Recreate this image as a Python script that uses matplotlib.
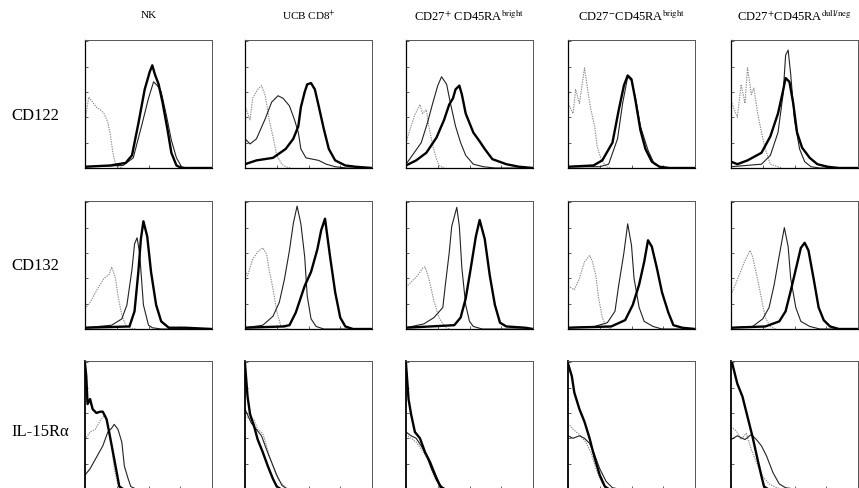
import matplotlib
matplotlib.use("Agg")
import matplotlib.pyplot as plt
import numpy as np

plt.rcParams['font.family'] = ['Liberation Serif', 'DejaVu Serif']
plt.rcParams['mathtext.fontset'] = 'stix'

COL_TITLES = ["NK", "UCB CD8$^{+}$", "CD27$^{+}$ CD45RA$^{\\rm bright}$",
              "CD27$^{-}$CD45RA$^{\\rm bright}$", "CD27$^{+}$CD45RA$^{\\rm dull/neg}$"]
ROW_TITLES = ["CD122", "CD132", "IL-15R\u03b1"]

# curves: (channel %, relative count %)
# row 1 : CD122
CD122_ISO = [
    [(0, 37), (3, 56), (6, 52), (9, 48), (12, 46), (15, 43), (18, 36), (20, 26), (22, 12), (24, 3), (26, 1), (30, 0)],
    [(0, 49), (4, 38), (6, 55), (10, 62), (13, 65), (16, 57), (19, 38), (22, 25), (25, 10), (29, 3), (32, 1), (36, 0)],
    [(0, 20), (4, 33), (7, 42), (11, 50), (13, 43), (16, 46), (18, 33), (21, 18), (24, 7), (26, 2), (30, 0)],
    [(0, 51), (4, 43), (6, 62), (9, 51), (13, 79), (16, 58), (18, 46), (21, 33), (23, 17), (26, 7), (30, 1), (34, 0)],
    [(0, 53), (5, 40), (8, 66), (11, 51), (13, 79), (16, 58), (18, 63), (21, 43), (24, 28), (27, 15), (31, 3), (37, 1), (40, 0)],
]
CD122_THIN = [
    [(0, 1), (30, 2), (38, 8), (45, 35), (50, 55), (54, 68), (57, 65), (60, 60), (64, 42), (68, 22), (72, 8), (76, 1), (80, 0), (100, 0)],
    [(0, 23), (4, 19), (9, 23), (16, 39), (21, 52), (26, 57), (30, 55), (35, 49), (39, 38), (42, 28), (44, 15), (48, 8),
     (53, 7), (58, 6), (64, 3), (71, 1), (80, 0), (100, 0)],
    [(0, 3), (5, 10), (12, 20), (17, 36), (21, 51), (25, 65), (28, 72), (32, 66), (35, 51), (39, 33), (43, 20), (47, 10),
     (53, 3), (61, 1), (70, 0), (100, 0)],
    [(0, 1), (25, 1), (32, 3), (39, 23), (43, 51), (47, 72), (50, 69), (53, 56), (57, 33), (63, 14), (68, 3), (74, 0), (100, 0)],
    [(0, 1), (24, 3), (31, 10), (37, 28), (41, 58), (43, 89), (45, 93), (47, 74), (50, 38), (54, 15), (58, 5), (63, 1),
     (70, 0), (100, 0)],
]
CD122_THICK = [
    [(0, 1), (20, 2), (32, 4), (37, 10), (42, 35), (47, 62), (51, 76), (53, 81), (55, 74), (58, 66), (61, 52), (65, 30),
     (68, 12), (72, 2), (76, 0), (100, 0)],
    [(0, 3), (9, 6), (22, 8), (32, 15), (38, 23), (42, 33), (44, 48), (47, 60), (49, 66), (52, 67), (55, 62), (58, 49),
     (62, 31), (66, 15), (71, 6), (79, 2), (87, 1), (100, 0)],
    [(0, 2), (8, 6), (16, 12), (24, 24), (30, 38), (34, 50), (37, 55), (39, 62), (42, 65), (44, 58), (47, 43), (53, 28),
     (58, 21), (62, 15), (68, 7), (79, 3), (89, 1), (100, 0)],
    [(0, 1), (20, 2), (27, 6), (35, 20), (40, 46), (44, 65), (47, 73), (50, 70), (53, 54), (57, 30), (61, 15), (66, 5),
     (72, 1), (80, 0), (100, 0)],
    [(0, 5), (5, 3), (13, 6), (24, 12), (31, 25), (37, 43), (41, 61), (43, 71), (46, 68), (49, 51), (52, 28), (56, 16),
     (62, 8), (68, 3), (76, 1), (85, 0), (100, 0)],
]
# row 2 : CD132
CD132_ISO = [
    [(0, 16), (4, 21), (10, 32), (15, 40), (19, 43), (21, 49), (24, 40), (26, 26), (29, 11), (32, 3), (35, 1), (40, 0)],
    [(0, 46), (2, 42), (6, 55), (10, 61), (14, 64), (17, 59), (19, 47), (22, 32), (25, 14), (28, 3), (31, 1), (35, 0)],
    [(0, 33), (2, 35), (9, 42), (13, 48), (15, 49), (18, 40), (22, 22), (26, 9), (29, 4), (31, 1), (35, 0)],
    [(0, 34), (5, 31), (9, 40), (13, 53), (17, 58), (19, 54), (22, 42), (24, 25), (27, 9), (30, 2), (34, 0)],
    [(0, 27), (3, 34), (7, 44), (11, 54), (15, 62), (17, 57), (21, 39), (25, 19), (27, 9), (31, 2), (35, 0)],
]
CD132_THIN = [
    [(0, 1), (21, 3), (29, 8), (33, 19), (37, 47), (39, 67), (41, 72), (43, 60), (46, 19), (50, 3), (53, 1), (60, 0), (100, 0)],
    [(0, 1), (14, 3), (22, 10), (27, 21), (31, 39), (35, 62), (38, 83), (41, 97), (44, 83), (47, 57), (49, 26), (52, 8),
     (56, 2), (62, 0), (100, 0)],
    [(0, 1), (14, 4), (22, 9), (29, 17), (31, 35), (34, 60), (36, 81), (40, 96), (42, 81), (44, 48), (47, 19), (50, 6),
     (53, 2), (60, 0), (100, 0)],
    [(0, 1), (21, 2), (31, 5), (37, 14), (40, 35), (44, 60), (47, 83), (50, 66), (52, 40), (56, 17), (60, 6), (67, 2),
     (74, 0), (100, 0)],
    [(0, 1), (17, 2), (25, 8), (30, 17), (34, 35), (38, 58), (42, 80), (45, 65), (47, 40), (51, 17), (55, 6), (62, 2),
     (70, 0), (100, 0)],
]
CD132_THICK = [
    [(0, 1), (35, 2), (39, 14), (42, 45), (44, 71), (46, 85), (49, 73), (52, 45), (56, 19), (60, 6), (66, 1), (79, 1), (100, 0)],
    [(0, 1), (30, 2), (35, 3), (40, 13), (47, 34), (52, 45), (57, 63), (60, 78), (63, 87), (67, 57), (71, 29), (75, 9),
     (79, 2), (85, 0), (100, 0)],
    [(0, 1), (38, 3), (43, 9), (47, 24), (51, 48), (55, 73), (58, 86), (62, 71), (66, 42), (70, 19), (74, 5), (79, 2),
     (94, 1), (100, 0)],
    [(0, 1), (34, 2), (45, 7), (51, 19), (56, 35), (60, 53), (63, 70), (66, 65), (70, 48), (74, 29), (79, 13), (83, 3),
     (90, 1), (100, 0)],
    [(0, 1), (27, 2), (38, 6), (43, 14), (47, 30), (51, 47), (55, 64), (58, 68), (61, 62), (65, 40), (69, 17), (73, 7),
     (78, 2), (85, 0), (100, 0)],
]
# row 3 : IL-15Ra
IL15_ISO = [
    [(0, 39), (4, 45), (8, 47), (12, 54), (16, 59), (18, 50), (21, 34), (23, 16), (26, 3), (29, 0)],
    [(0, 57), (7, 55), (10, 47), (14, 44), (17, 34), (19, 26), (22, 18), (26, 8), (30, 3), (34, 0)],
    [(0, 43), (4, 40), (8, 37), (13, 30), (17, 24), (20, 15), (24, 6), (27, 1), (30, 0)],
    [(0, 52), (4, 47), (9, 43), (14, 37), (18, 29), (22, 16), (26, 6), (30, 1), (34, 0)],
    [(0, 49), (4, 46), (8, 39), (12, 44), (16, 31), (20, 21), (25, 10), (30, 4), (36, 1), (40, 0)],
]
IL15_THIN = [
    [(0, 11), (4, 16), (9, 25), (14, 34), (18, 45), (21, 48), (23, 51), (26, 47), (29, 37), (31, 18), (34, 8), (36, 2), (40, 0)],
    [(0, 63), (5, 52), (9, 47), (13, 42), (17, 31), (21, 21), (25, 11), (29, 3), (33, 0)],
    [(0, 45), (4, 42), (8, 40), (12, 34), (16, 27), (20, 16), (24, 7), (29, 1), (32, 0)],
    [(0, 42), (4, 40), (9, 42), (13, 40), (17, 36), (21, 27), (25, 16), (30, 6), (35, 1), (40, 0), (78, 0)],
    [(0, 39), (5, 42), (11, 39), (16, 43), (20, 39), (24, 34), (28, 26), (33, 13), (38, 4), (43, 1), (50, 0), (80, 0)],
]
IL15_THICK = [
    [(0, 99), (1, 89), (2, 67), (4, 71), (6, 63), (9, 60), (12, 61), (14, 61), (17, 55), (19, 45), (22, 29), (25, 13),
     (27, 2), (30, 0)],
    [(0, 99), (2, 73), (4, 59), (7, 50), (10, 39), (14, 29), (18, 18), (22, 8), (25, 2), (28, 0)],
    [(0, 99), (2, 71), (4, 59), (7, 45), (11, 40), (15, 29), (19, 21), (23, 11), (27, 2), (30, 0)],
    [(0, 99), (3, 89), (5, 76), (9, 63), (13, 53), (17, 40), (19, 32), (22, 21), (25, 11), (29, 2), (32, 0)],
    [(0, 100), (1, 99), (5, 83), (9, 73), (13, 57), (17, 41), (21, 23), (24, 10), (26, 2), (29, 0)],
]

ROWS = [
    (CD122_ISO, CD122_THIN, CD122_THICK),
    (CD132_ISO, CD132_THIN, CD132_THICK),
    (IL15_ISO, IL15_THIN, IL15_THICK),
]

W, H = 859, 489
COL_LEFT = [85, 245, 406, 568, 731]
ROW_TOP = [41, 202, 362]
PW, PH = 127, 128
TITLE_SIZE = [8, 8, 9, 9, 9]

fig = plt.figure(figsize=(W / 100, H / 100), dpi=100)
fig.patch.set_facecolor('white')

for r, (iso, thin, thick) in enumerate(ROWS):
    for c in range(5):
        ax = fig.add_axes([COL_LEFT[c] / W, 1 - (ROW_TOP[r] + PH) / H, PW / W, PH / H])
        xi, yi = np.array(iso[c]).T
        ax.plot(xi, yi, color='#8a8a8a', lw=0.8, ls=(0, (1.2, 1.0)))
        xt, yt = np.array(thin[c]).T
        ax.plot(xt, yt, color='#222222', lw=0.8)
        xk, yk = np.array(thick[c]).T
        ax.plot(xk, yk, color='black', lw=1.7)
        ax.set_xlim(0, 100)
        ax.set_ylim(0, 101)
        ax.set_xticks(np.linspace(0, 100, 5))
        ax.set_yticks(np.linspace(0, 100, 6))
        ax.tick_params(direction='in', length=2, width=0.6, labelbottom=False, labelleft=False, colors='#444444')
        for side in ['top', 'right']:
            ax.spines[side].set_color('#555555')
            ax.spines[side].set_linewidth(0.7)
        ax.spines['bottom'].set_linewidth(0.9)
        ax.spines['left'].set_linewidth(1.3 if r == 2 else 0.9)
        if r == 0:
            fig.text((COL_LEFT[c] + PW / 2) / W, 1 - 16 / H, COL_TITLES[c], ha='center', va='center',
                     fontsize=TITLE_SIZE[c])

ROW_Y = [116, 266, 432]
for r in range(3):
    fig.text(11 / W, 1 - ROW_Y[r] / H, ROW_TITLES[r], ha='left', va='center', fontsize=12)

fig.savefig('out.png', dpi=100, facecolor='white')
